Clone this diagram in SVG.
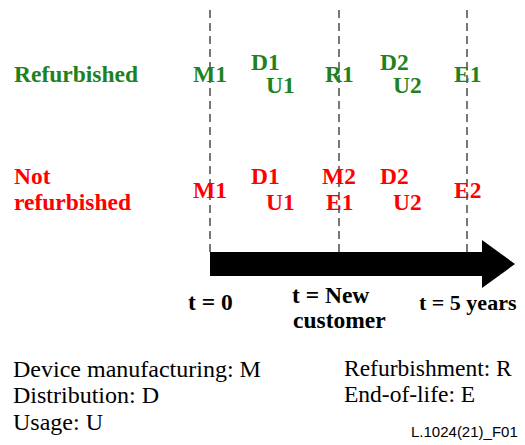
<svg xmlns="http://www.w3.org/2000/svg" width="525" height="445" viewBox="0 0 525 445">
  <style>
    .lbl { font-family: "Liberation Serif", "Times New Roman", serif; font-weight: bold; font-size: 23.5px; }
    .g { fill: #1e821e; }
    .r { fill: #ff0000; }
    .k { fill: #000000; }
    .leg { font-family: "Liberation Serif", "Times New Roman", serif; font-size: 23.5px; fill: #000000; }
    .tag { font-family: "Liberation Sans", Arial, sans-serif; font-size: 15px; fill: #000000; }
    .dash { stroke: #777777; stroke-width: 2; stroke-dasharray: 8 5; fill: none; }
  </style>

  <rect width="525" height="445" fill="#ffffff"/>

  <!-- time markers -->
  <g id="markers">
    <line class="dash" x1="210" y1="10" x2="210" y2="252"/>
    <line class="dash" x1="339" y1="10" x2="339" y2="252"/>
    <line class="dash" x1="467" y1="10" x2="467" y2="252"/>
  </g>

  <!-- timeline arrow -->
  <g id="timeline">
    <polygon class="k" points="210,252 482,252 482,240 515,264 482,288 482,276 210,276"/>
  </g>

  <!-- row headings -->
  <g id="row-refurbished">
    <text class="lbl g" x="14" y="82" font-size="24">Refurbished</text>
  </g>
  <g id="row-not-refurbished">
    <text class="lbl r" x="14" y="184" font-size="24">Not</text>
    <text class="lbl r" x="14" y="210" font-size="24">refurbished</text>
  </g>

  <!-- refurbished life cycle stages -->
  <g id="refurb-stages" class="lbl g">
    <text x="193" y="82">M1</text>
    <text x="251" y="70">D1</text>
    <text x="266" y="93">U1</text>
    <text x="325" y="82">R1</text>
    <text x="380" y="70">D2</text>
    <text x="393" y="93">U2</text>
    <text x="454" y="82">E1</text>
  </g>

  <!-- not refurbished life cycle stages -->
  <g id="new-stages" class="lbl r">
    <text x="193" y="198">M1</text>
    <text x="251" y="184">D1</text>
    <text x="266" y="210">U1</text>
    <text x="322" y="184">M2</text>
    <text x="326" y="210">E1</text>
    <text x="380" y="184">D2</text>
    <text x="393" y="210">U2</text>
    <text x="454" y="198">E2</text>
  </g>

  <!-- time labels -->
  <g id="time-labels" class="lbl k">
    <text x="188" y="310">t = 0</text>
    <text x="292" y="303">t = New</text>
    <text x="293" y="328">customer</text>
    <text x="419" y="310" font-size="22">t = 5 years</text>
  </g>

  <!-- legend -->
  <g id="legend" class="leg">
    <text x="13" y="377" font-size="24">Device manufacturing: M</text>
    <text x="13" y="403" font-size="24">Distribution: D</text>
    <text x="13" y="430" font-size="24">Usage: U</text>
    <text x="344" y="376">Refurbishment: R</text>
    <text x="344" y="402">End-of-life: E</text>
  </g>
  <text class="tag" x="411" y="437">L.1024(21)_F01</text>
</svg>
